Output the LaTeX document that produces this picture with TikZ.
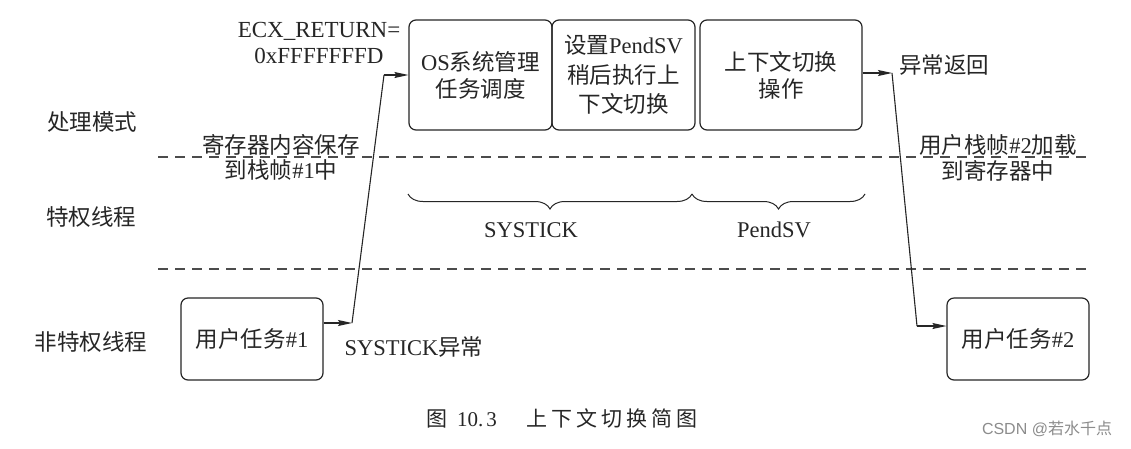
\documentclass[tikz,border=0pt]{standalone}
\usepackage{fontspec}
\setmainfont{Liberation Serif}
\newfontfamily\cjk{Noto Sans CJK SC}
\newfontfamily\wmfont{Liberation Sans}
\usetikzlibrary{arrows.meta,decorations.pathreplacing}
\newcommand\zh[1]{{\cjk #1}}
\begin{document}
\begin{tikzpicture}[x=1pt,y=-1pt,
  txt/.style={text=black!85,font=\fontsize{22.5}{27}\selectfont,inner sep=0pt,align=center},
  box/.style={draw=black!85,line width=1.2pt,rounded corners=7pt,txt},
  arr/.style={line width=1.1pt,draw=black!85,-{Stealth[length=14pt,width=6pt,inset=2pt]}},
  conn/.style={line width=1.1pt,draw=black!85},
  lane/.style={draw=black!70,line width=1.1pt,dash pattern=on 10pt off 7pt},
  brc/.style={draw=black!85,line width=1pt,decorate,decoration={brace,mirror,amplitude=15pt}}]
\useasboundingbox[fill=white] (0,0) rectangle (1131,448);

% lanes
\draw[lane] (158,157) -- (1091,157);
\draw[lane] (158,269) -- (1091,269);

% lane labels
\node[txt] (lp) at (92,122) {\zh{处理模式}};
\node[txt] (lt) at (91,217) {\zh{特权线程}};
\node[txt] (lu) at (91,342) {\zh{非特权线程}};

% boxes
\node[box,minimum width=143pt,minimum height=110pt] (b1) at (480.5,75) {OS\zh{系统管理}\\\zh{任务调度}};
\node[box,minimum width=143pt,minimum height=110pt,font=\fontsize{22.5}{29.5}\selectfont] (b2) at (623.5,75) {\zh{设置}PendSV\\\zh{稍后执行上}\\\zh{下文切换}};
\node[box,minimum width=162pt,minimum height=110pt] (b3) at (781,75) {\zh{上下文切换}\\\zh{操作}};
\node[box,minimum width=142pt,minimum height=82pt] (u1) at (252,339) {\zh{用户任务}\#1};
\node[box,minimum width=142pt,minimum height=82pt] (u2) at (1018,339) {\zh{用户任务}\#2};

% labels
\node[txt,font=\fontsize{23}{26}\selectfont] (ecx) at (319,43) {ECX\_RETURN=\\0xFFFFFFFD};
\node[txt,font=\fontsize{22.5}{25}\selectfont] (save) at (281,157) {\zh{寄存器内容保存}\\\zh{到栈帧}\#1\zh{中}};
\node[txt,font=\fontsize{22.5}{26}\selectfont] (load) at (998,158) {\zh{用户栈帧}\#2\zh{加载}\\\zh{到寄存器中}};
\node[txt] (ret) at (944,65) {\zh{异常返回}};
\node[txt] (sys) at (414,347) {SYSTICK\zh{异常}};

% connectors
\coordinate (c1) at (352,323);
\coordinate (c2) at (384,75);
\coordinate (c3) at (892,73);
\coordinate (c4) at (917,326);
\draw[arr] (u1.east |- c1) -- (c1);
\draw[conn] (c1) -- (c2);
\draw[arr] (c2) -- (b1.west |- c2);
\draw[arr] (b3.east |- c3) -- (c3);
\draw[conn] (c3) -- (c4);
\draw[arr] (c4) -- (u2.west |- c4);

% braces
\coordinate (br1) at (408,194);
\coordinate (br2) at (692,194);
\coordinate (br3) at (865,194);
\draw[brc] (br1) -- (br2);
\draw[brc] (br2) -- (br3);
\node[txt] (lsys) at (531,230) {SYSTICK};
\node[txt] (lpend) at (774,230) {PendSV};

% caption
\node[txt,font=\fontsize{21}{24}\selectfont] (cap) at (562,418) {\zh{图}\hspace{10pt}10.\hspace{3pt}3\hspace{30pt}\zh{上\hspace{4pt}下\hspace{4pt}文\hspace{4pt}切\hspace{4pt}换\hspace{4pt}简\hspace{4pt}图}};
\node[inner sep=0pt,text=black!45,font=\wmfont\fontsize{16}{18}\selectfont] (wm) at (1047,429) {CSDN @\zh{若水千点}};
\end{tikzpicture}
\end{document}
